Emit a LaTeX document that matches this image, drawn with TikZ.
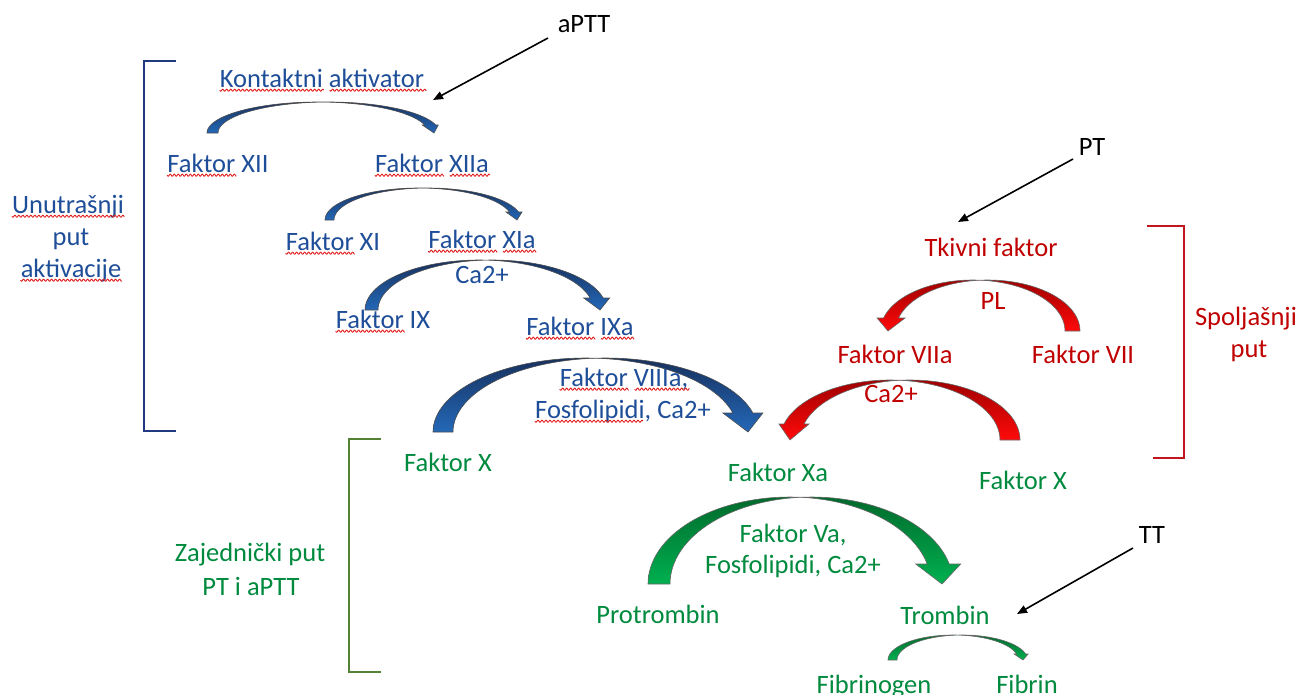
\documentclass[tikz,border=0pt]{standalone}
\usepackage{fontspec}
\setmainfont{Carlito}
\usetikzlibrary{arrows.meta}
\definecolor{tblue}{HTML}{1F4E99}
\definecolor{tred}{HTML}{C00000}
\definecolor{tgreen}{HTML}{008A3E}
\definecolor{brblue}{HTML}{1F3A80}
\definecolor{brgreen}{HTML}{548235}
\definecolor{brred}{HTML}{C0161E}
\definecolor{spell}{HTML}{E02020}
\definecolor{abT}{HTML}{17315E}
\definecolor{abB}{HTML}{2468B8}
\definecolor{arT}{HTML}{A00000}
\definecolor{arB}{HTML}{FF0A0A}
\definecolor{agT}{HTML}{006A2C}
\definecolor{agB}{HTML}{00B050}
\newcommand\txtfont{\fontsize{26.5}{32}\selectfont}
% spell-check squiggle under part of a node's text: node, start offset, length (pt)
\newcommand\squig[3]{%
  \pgfmathsetmacro\SQe{#2+#3}%
  \begin{scope}[shift={(#1.base west)}]
    \draw[squig] plot[domain=#2:\SQe, samples=160] (\x,{3.2+1.1*sin((\x-#2)*90)});
  \end{scope}}
% band arrow: xo yb yt w xt L W style
\newcommand\bandarrow[8]{%
  \pgfmathsetmacro\BAa{(#5-#1-#4/2)/2}%
  \pgfmathsetmacro\BAc{#1+#4/2+\BAa}%
  \pgfmathsetmacro\BAh{#2-#3}%
  \pgfmathsetmacro\BAt{asin(#6/\BAh)}%
  \pgfmathsetmacro\BAm{\BAc+\BAa*cos(\BAt)}%
  \path[#8] plot[domain=180:\BAt,samples=60] ({\BAc-#4/2+\BAa*cos(\x)},{#2-\BAh*sin(\x)})
    -- ({\BAm-#7/2},{#2-#6}) -- (#5,#2) -- ({\BAm+#7/2},{#2-#6})
    -- plot[domain=\BAt:180,samples=60] ({\BAc+#4/2+\BAa*cos(\x)},{#2-\BAh*sin(\x)}) -- cycle;
}
\tikzset{
  txt/.style={font=\txtfont, inner sep=0pt, anchor=base},
  bl/.style={txt, text=tblue},
  rd/.style={txt, text=tred},
  gr/.style={txt, text=tgreen},
  bk/.style={txt, text=black},
  bluearr/.style={top color=abT, bottom color=abB, draw=black!70, line width=0.6pt},
  redarr/.style={top color=arT, bottom color=arB, draw=black!60, line width=0.6pt},
  greenarr/.style={top color=agT, bottom color=agB, draw=black!60, line width=0.6pt},
  bracket/.style={line width=2pt},
  ptr/.style={line width=1.6pt, -{Triangle[length=10pt,width=8pt]}},
  squig/.style={draw=spell, line width=0.9pt, line join=round}
}
\begin{document}
\begin{tikzpicture}[x=1pt,y=-1pt]
\useasboundingbox (0,0) rectangle (1301,694);
% brackets
\draw[bracket, brblue] (176,61) -- (144,61) -- (144,431) -- (176,431);
\draw[bracket, brgreen] (381,439) -- (349,439) -- (349,672) -- (381,672);
\draw[bracket, brred] (1147,226) -- (1184,226) -- (1184,458) -- (1153,458);
% curved band arrows
\bandarrow{207}{133}{102}{11}{434}{8}{16}{bluearr}
\bandarrow{325}{220}{188}{9}{517}{8}{16}{bluearr}
\bandarrow{365}{310}{260}{13}{600}{12}{26}{bluearr}
\bandarrow{433}{432}{358}{20}{748}{19}{40}{bluearr}
\bandarrow{648}{584}{497}{22}{942}{20}{45}{greenarr}
\bandarrow{888}{660}{635}{9}{1023}{6}{14}{greenarr}
\begin{scope}[xscale=-1]
\bandarrow{-1080}{331}{280}{15}{-888}{13}{28}{redarr}
\bandarrow{-1020}{440}{380}{20}{-790}{16}{30}{redarr}
\end{scope}
% blue texts
\node[bl] (kont) at (322,87) {Kontaktni aktivator};
\node[bl] (f12) at (218,172) {Faktor XII};
\node[bl] (f12a) at (432,172) {Faktor XIIa};
\node[bl] (f11) at (333,250) {Faktor XI};
\node[bl] (f11a) at (482,248) {Faktor XIa};
\node[bl] (ca1) at (482,283) {Ca2+};
\node[bl] (f9) at (383,328) {Faktor IX};
\node[bl] (f9a) at (580,335) {Faktor IXa};
\node[bl] (f8a1) at (624,386) {Faktor VIIIa,};
\node[bl] (f8a2) at (623,418) {Fosfolipidi, Ca2+};
\node[bl] (unut1) at (68,213) {Unutrašnji};
\node[bl] (unut2) at (71,245) {put};
\node[bl] (unut3) at (71,277) {aktivacije};
% spell-check squiggles
\squig{kont}{0}{104}
\squig{kont}{110}{96.5}
\squig{f12}{0}{69}
\squig{f12a}{0}{69}
\squig{f12a}{75}{39.8}
\squig{f11}{0}{69}
\squig{f11a}{0}{69}
\squig{f11a}{75}{33}
\squig{f9}{0}{69}
\squig{f9a}{0}{69}
\squig{f9a}{75}{33}
\squig{f8a1}{0}{69}
\squig{f8a1}{75}{54.7}
\squig{f8a2}{0}{108}
\squig{unut1}{0}{112.4}
\squig{unut3}{0}{101.2}
% green texts
\node[gr] (fxL) at (448,471) {Faktor X};
\node[gr] (fxa) at (778,481) {Faktor Xa};
\node[gr] (fxR) at (1023,489) {Faktor X};
\node[gr] (zaj1) at (250,561) {Zajednički put};
\node[gr] (zaj2) at (251,595) {PT i aPTT};
\node[gr] (va1) at (793,542) {Faktor Va,};
\node[gr] (va2) at (793,573) {Fosfolipidi, Ca2+};
\node[gr] (prot) at (658,623) {Protrombin};
\node[gr] (tromb) at (945,624) {Trombin};
\node[gr] (fibg) at (874,693) {Fibrinogen};
\node[gr] (fib) at (1027,693) {Fibrin};
% red texts
\node[rd] (tkf) at (991,256) {Tkivni faktor};
\node[rd] (pl) at (993,309) {PL};
\node[rd] (f7a) at (895,363) {Faktor VIIa};
\node[rd] (f7) at (1083,363) {Faktor VII};
\node[rd] (ca2) at (891,402) {Ca2+};
\node[rd] (spo1) at (1246,325) {Spoljašnji};
\node[rd] (spo2) at (1249,357) {put};
% black labels and pointers
\node[bk] (aptt) at (584,32) {aPTT};
\node[bk] (pt) at (1092,155) {PT};
\node[bk] (tt) at (1152,543) {TT};
\coordinate (apttS) at (548,38);
\coordinate (apttE) at (433,100);
\coordinate (ptS) at (1073,159);
\coordinate (ptE) at (958,222);
\coordinate (ttS) at (1133,548);
\coordinate (ttE) at (1017,614);
\draw[ptr] (apttS) -- (apttE);
\draw[ptr] (ptS) -- (ptE);
\draw[ptr] (ttS) -- (ttE);
\end{tikzpicture}
\end{document}
